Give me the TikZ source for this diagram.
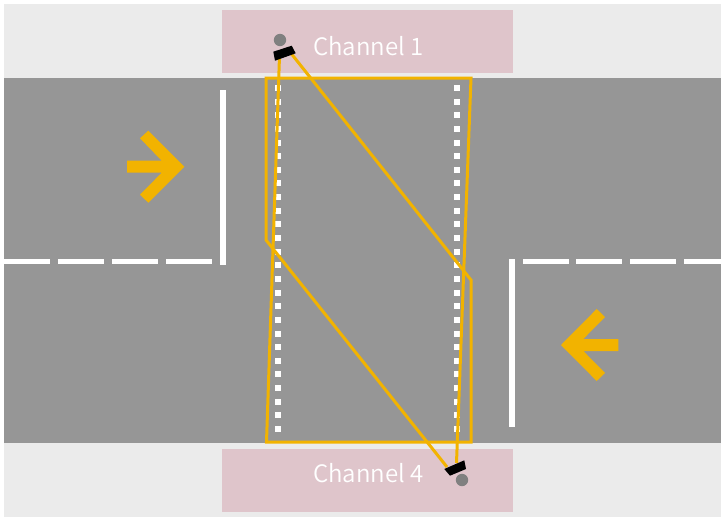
\documentclass[tikz,border=0pt]{standalone}
\usepackage{fontspec}
\setmainfont{Noto Sans CJK SC}[UprightFont=* DemiLight]
\definecolor{walk}{HTML}{EBEBEB}
\definecolor{road}{HTML}{969696}
\definecolor{zone}{HTML}{DFC5CB}
\definecolor{fov}{HTML}{F2B300}
\definecolor{cam}{HTML}{808080}
\tikzset{
  x=1pt,y=-1pt,
  paint/.style={fill=white,draw=none},
  fovline/.style={draw=fov,line width=3pt,line join=miter},
  arrowshape/.style={fill=fov,draw=none},
  zonebox/.style={fill=zone,draw=none},
  chan/.style={text=white,font=\fontsize{24}{28}\selectfont,inner sep=0pt,anchor=base west},
}
\begin{document}
\begin{tikzpicture}
\useasboundingbox (0,0) rectangle (721,517);
\fill[white] (0,0) rectangle (721,517);
\fill[walk] (4,4) rectangle (721,517);
\fill[road] (4,78) rectangle (721,443);
\fill[zonebox] (222,10) rectangle (513,73);
\fill[zonebox] (222,449) rectangle (513,512);
% stop lines
\fill[paint] (220,90) rectangle (226,265);
\fill[paint] (509,259) rectangle (515,427);
% centre dashes
\foreach \a/\b in {4/50,58/104,112/158,166/212,523/569,576/622,630/676,684/721}
  \fill[paint] (\a,259) rectangle (\b,264);
% crossing dots
\foreach \i in {0,...,25}{
  \pgfmathsetmacro{\yy}{85+13.64*\i}
  \fill[paint] (274.8,\yy) rectangle ++(6.6,6);
  \fill[paint] (453.7,\yy) rectangle ++(6.6,6);
}
% arrows
\fill[arrowshape] (127,160.7)--(161.7,160.7)--(140,138.3)--(148.3,130.7)--(184.3,166.7)--(148.3,202.7)--(140,194.7)--(161.7,172.7)--(127,172.7)--cycle;
\fill[arrowshape] (618.3,339)--(583.3,339)--(605,317)--(596.7,309)--(561,345)--(596.7,381)--(605,373)--(583.3,351)--(618.3,351)--cycle;
% cameras
\coordinate (c1) at (279.5,56);
\coordinate (c1b) at (290,52);
\coordinate (c4) at (456.5,463);
\coordinate (c4b) at (447,467);
\draw[fovline] (c1)--(266.5,442)--(471,442)--(471,280)--(c1b);
\draw[fovline] (c4)--(471,78)--(266,78)--(266,240)--(c4b);
\fill[cam] (280,40) circle (6.2);
\fill[cam] (462,480) circle (6.2);
\fill[black] (273.3,51.7)--(291.7,45.7)--(295.7,53.3)--(275,60.7)--cycle;
\fill[black] (444.3,469)--(464.3,460.3)--(466,469)--(450,475.7)--cycle;
\node[chan] (ch1) at (312.8,55) {Channel 1};
\node[chan] (ch4) at (312.8,482) {Channel 4};
\end{tikzpicture}
\end{document}
